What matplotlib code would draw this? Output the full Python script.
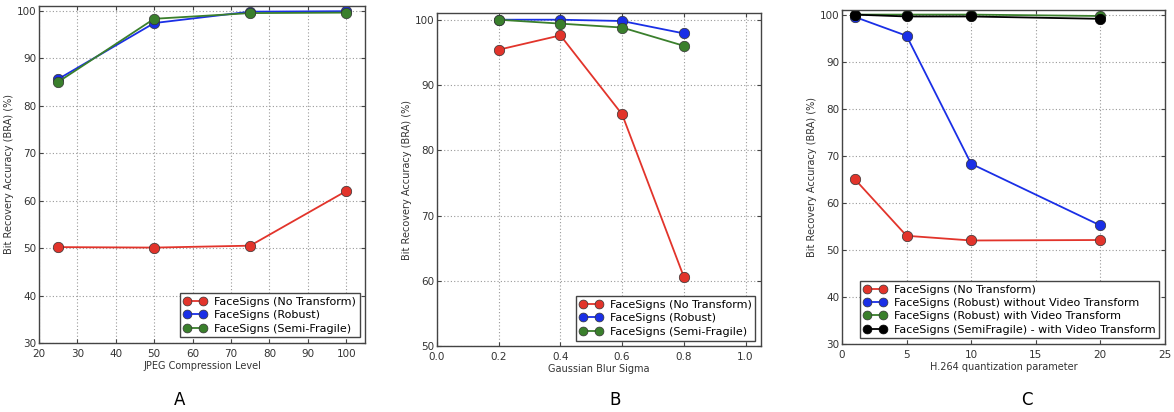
import matplotlib
matplotlib.use("Agg")
import matplotlib.pyplot as plt

# Panel A - JPEG compression
jpeg_level = [25, 50, 75, 100]
jpeg_none = [50.2, 50.1, 50.5, 62.0]
jpeg_robust = [85.6, 97.4, 99.8, 99.9]
jpeg_semi = [85.0, 98.3, 99.5, 99.6]

# Panel B - Gaussian blur
blur_sigma = [0.2, 0.4, 0.6, 0.8]
blur_none = [95.4, 97.6, 85.5, 60.6]
blur_robust = [100.0, 100.0, 99.8, 97.9]
blur_semi = [100.0, 99.4, 98.8, 96.0]

# Panel C - H.264 quantization
h264_qp = [1, 5, 10, 20]
h264_none = [65.0, 53.0, 52.0, 52.1]
h264_robust_novt = [99.5, 95.5, 68.3, 55.2]
h264_robust_vt = [100.0, 100.0, 100.0, 99.7]
h264_semi_vt = [100.0, 99.6, 99.6, 99.1]

RED = "#e2342b"
BLUE = "#1a2fe6"
GREEN = "#3a7f2c"
BLACK = "#000000"

plt.rcParams["font.family"] = "DejaVu Sans"

fig = plt.figure(figsize=(11.74, 4.12), dpi=100)
axA = fig.add_axes([0.0332, 0.1675, 0.278, 0.818])
axB = fig.add_axes([0.3722, 0.160, 0.276, 0.808])
axC = fig.add_axes([0.7172, 0.165, 0.275, 0.811])


def draw(ax, x, y, color, label):
    edge = "#333333" if color != BLACK else BLACK
    ax.plot(x, y, "-o", color=color, lw=1.3, ms=7.5, mec=edge, mew=0.5, label=label)


def style(ax, xlabel):
    ax.grid(True, linestyle=(0, (1, 2)), color="#999999", linewidth=0.8)
    ax.set_axisbelow(True)
    for s in ax.spines.values():
        s.set_color("#444444")
        s.set_linewidth(1.0)
    ax.tick_params(labelsize=7.5, color="#444444", labelcolor="#333333", length=3,
                   direction="in", top=True, right=True, pad=2)
    ax.tick_params(axis="x", pad=4)
    ax.set_xlabel(xlabel, fontsize=7, color="#333333", labelpad=2)
    ax.set_ylabel("Bit Recovery Accuracy (BRA) (%)", fontsize=7, color="#333333", labelpad=2)
    leg = ax.legend(loc="lower right", fontsize=8, frameon=True, fancybox=False,
                    numpoints=2, markerscale=0.85, borderaxespad=0.5, handlelength=2.0,
                    handletextpad=0.7, labelspacing=0.3, borderpad=0.35, framealpha=1)
    leg.get_frame().set_edgecolor("#444444")
    leg.get_frame().set_linewidth(1.0)


draw(axA, jpeg_level, jpeg_none, RED, "FaceSigns (No Transform)")
draw(axA, jpeg_level, jpeg_robust, BLUE, "FaceSigns (Robust)")
draw(axA, jpeg_level, jpeg_semi, GREEN, "FaceSigns (Semi-Fragile)")
axA.set_xlim(20, 105)
axA.set_ylim(30, 101)
axA.set_xticks(range(20, 101, 10))
axA.set_yticks(range(30, 101, 10))
style(axA, "JPEG Compression Level")

draw(axB, blur_sigma, blur_none, RED, "FaceSigns (No Transform)")
draw(axB, blur_sigma, blur_robust, BLUE, "FaceSigns (Robust)")
draw(axB, blur_sigma, blur_semi, GREEN, "FaceSigns (Semi-Fragile)")
axB.set_xlim(0, 1.05)
axB.set_ylim(50, 101)
axB.set_xticks([0.0, 0.2, 0.4, 0.6, 0.8, 1.0])
axB.set_yticks(range(50, 101, 10))
style(axB, "Gaussian Blur Sigma")

draw(axC, h264_qp, h264_none, RED, "FaceSigns (No Transform)")
draw(axC, h264_qp, h264_robust_novt, BLUE, "FaceSigns (Robust) without Video Transform")
draw(axC, h264_qp, h264_robust_vt, GREEN, "FaceSigns (Robust) with Video Transform")
draw(axC, h264_qp, h264_semi_vt, BLACK, "FaceSigns (SemiFragile) - with Video Transform")
axC.set_xlim(0, 25)
axC.set_ylim(30, 101)
axC.set_xticks(range(0, 26, 5))
axC.set_yticks(range(30, 101, 10))
style(axC, "H.264 quantization parameter")

fig.text(180 / 1174, 1 - 400 / 412, "A", fontsize=12, ha="center", va="center")
fig.text(615 / 1174, 1 - 400 / 412, "B", fontsize=12, ha="center", va="center")
fig.text(1027 / 1174, 1 - 400 / 412, "C", fontsize=12, ha="center", va="center")

fig.savefig("out.png", dpi=100)
